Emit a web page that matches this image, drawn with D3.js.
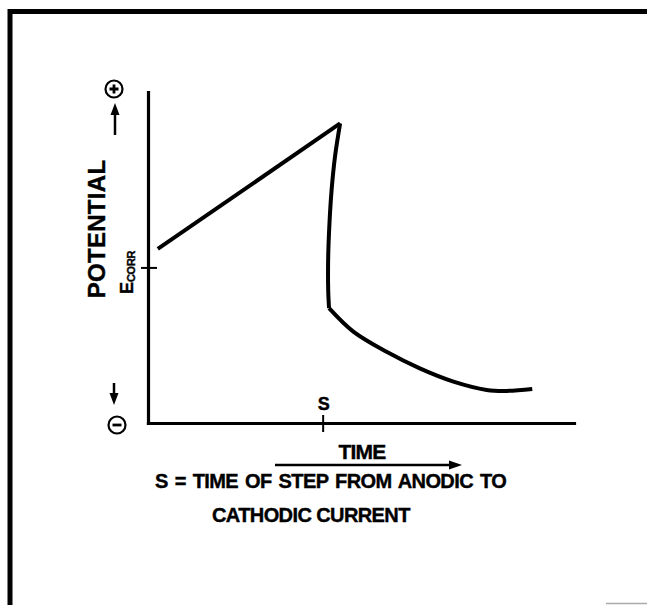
<!DOCTYPE html>
<html>
<head>
<meta charset="utf-8">
<script src="https://cdn.jsdelivr.net/npm/d3@7"></script>
<style>
body { margin: 0; background: #fff; }
svg { display: block; font-family: "Liberation Sans", Arial, sans-serif; font-weight: bold; }
svg text { stroke: #000; stroke-width: 0.4; }
</style>
</head>
<body>
<div id="chart"></div>
<script>
let width = 647
let height = 605

let timeDomain = [0, 10]
let potentialDomain = [0, 10]

// curve, in time / potential units
let riseT = [0.23, 4.51]
let riseE = [5.26, 9.05]
let dropT = [4.51, 4.39, 4.31, 4.26, 4.23, 4.23, 4.25]
let dropE = [9.05, 8.05, 7.04, 6.04, 5.02, 4.02, 3.47]
let decayT = [4.25, 4.82, 5.60, 6.38, 7.17, 7.95, 8.42, 9.02]
let decayE = [3.47, 2.76, 2.15, 1.65, 1.25, 1.00, 0.97, 1.03]

let xTickValues = [4.1]
let xTickLabels = ["S"]
let yTickValues = [4.7]
let yTickLabels = ["E"]
let yTickSubs = ["CORR"]

let xTitle = "TIME"
let yTitle = "POTENTIAL"
let captionLines = ["S = TIME OF STEP FROM ANODIC TO", "CATHODIC CURRENT"]

let x = d3.scaleLinear().domain(timeDomain).range([148, 574])
let y = d3.scaleLinear().domain(potentialDomain).range([423, 92])

let svg = d3.select("#chart").append("svg")
    .attr("width", width)
    .attr("height", height)

// page frame
svg.append("path")
    .attr("d", `M10,${height} V11.5 H${width}`)
    .attr("fill", "none")
    .attr("stroke", "#000")
    .attr("stroke-width", 5)
svg.append("line")
    .attr("x1", 606).attr("x2", width)
    .attr("y1", 603.5).attr("y2", 603.5)
    .attr("stroke", "#aaa")
    .attr("stroke-width", 1.5)

let xAxis = svg.append("g")
    .attr("transform", `translate(0,${y(potentialDomain[0])})`)
    .call(d3.axisBottom(x).tickValues(xTickValues).tickSize(9).tickSizeOuter(0).tickFormat(""))
xAxis.selectAll(".tick line").attr("y1", -8).attr("stroke-width", 2)

let yAxis = svg.append("g")
    .attr("transform", `translate(${x(timeDomain[0])},0)`)
    .call(d3.axisLeft(y).tickValues(yTickValues).tickSize(7).tickSizeOuter(0).tickFormat(""))
yAxis.selectAll(".tick line").attr("x1", 9).attr("stroke-width", 2)

svg.selectAll(".domain")
    .attr("stroke-width", 3.2)
    .attr("stroke-linecap", "square")

// S label over its tick
svg.selectAll(".xlab")
    .data(xTickValues)
    .join("text")
    .attr("x", d => x(d) + 1)
    .attr("y", y(potentialDomain[0]) - 13)
    .attr("text-anchor", "middle")
    .attr("font-size", 18)
    .text((d, i) => xTickLabels[i])

// E corr label, rotated
let ylab = svg.selectAll(".ylab")
    .data(yTickValues)
    .join("text")
    .attr("transform", d => `translate(133,${y(d) + 5}) rotate(-90)`)
    .attr("text-anchor", "middle")
ylab.append("tspan")
    .attr("font-size", 18)
    .text((d, i) => yTickLabels[i])
ylab.append("tspan")
    .attr("font-size", 11)
    .attr("dy", 2)
    .attr("letter-spacing", -0.3)
    .text((d, i) => yTickSubs[i])

svg.append("text")
    .attr("transform", "translate(105,229) rotate(-90)")
    .attr("text-anchor", "middle")
    .attr("font-size", 24)
    .attr("letter-spacing", 0.3)
    .text(yTitle)

let line = d3.line()
    .x(d => x(d[0]))
    .y(d => y(d[1]))

let curves = [
    { t: riseT, e: riseE, curve: d3.curveLinear },
    { t: dropT, e: dropE, curve: d3.curveCatmullRom },
    { t: decayT, e: decayE, curve: d3.curveCatmullRom }
]

svg.append("g")
    .selectAll("path")
    .data(curves)
    .join("path")
    .attr("fill", "none")
    .attr("stroke", "#000")
    .attr("stroke-width", 4)
    .attr("stroke-linejoin", "miter")
    .attr("d", d => line.curve(d.curve)(d.t.map((t, i) => [t, d.e[i]])))

// plus / minus symbols with arrows
function arrowHead(g, tx, ty, dir) {
    g.append("path")
        .attr("d", `M${tx},${ty} L${tx - 4.5},${ty + dir * 12} L${tx + 4.5},${ty + dir * 12} Z`)
        .attr("fill", "#000")
}

let ax = 115
let yTop = y(potentialDomain[1])
let yBottom = y(potentialDomain[0])
let sym = svg.append("g").attr("stroke", "#000").attr("fill", "none")

sym.append("circle").attr("cx", ax - 1).attr("cy", yTop - 3).attr("r", 8.5).attr("stroke-width", 2.2)
sym.append("path").attr("d", `M${ax - 5.5},${yTop - 3} H${ax + 3.5} M${ax - 1},${yTop - 7.5} V${yTop + 1.5}`).attr("stroke-width", 2.8)
sym.append("line").attr("x1", ax).attr("x2", ax).attr("y1", yTop + 43).attr("y2", yTop + 20).attr("stroke-width", 2.5)
arrowHead(svg, ax, yTop + 11, 1)

sym.append("circle").attr("cx", ax + 2).attr("cy", yBottom + 2).attr("r", 8.5).attr("stroke-width", 2.2)
sym.append("path").attr("d", `M${ax - 2.5},${yBottom + 2} H${ax + 6.5}`).attr("stroke-width", 2.8)
sym.append("line").attr("x1", ax - 1).attr("x2", ax - 1).attr("y1", yBottom - 40).attr("y2", yBottom - 27).attr("stroke-width", 2.5)
arrowHead(svg, ax - 1, yBottom - 18, -1)

// time arrow and captions
svg.append("text")
    .attr("x", 362)
    .attr("y", 459)
    .attr("text-anchor", "middle")
    .attr("font-size", 21)
    .attr("letter-spacing", -0.8)
    .text(xTitle)

svg.append("line")
    .attr("x1", 275).attr("x2", 452)
    .attr("y1", 465).attr("y2", 465)
    .attr("stroke", "#000")
    .attr("stroke-width", 2.5)
svg.append("path")
    .attr("d", "M462,465 L449,460.5 L449,469.5 Z")
    .attr("fill", "#000")

svg.selectAll(".caption")
    .data(captionLines)
    .join("text")
    .attr("x", (d, i) => i == 0 ? 155 : 212)
    .attr("y", (d, i) => i == 0 ? 488 : 522)
    .attr("font-size", 20)
    .attr("letter-spacing", -0.6)
    .attr("word-spacing", (d, i) => i == 0 ? 2 : 0)
    .text(d => d)
</script>
</body>
</html>
